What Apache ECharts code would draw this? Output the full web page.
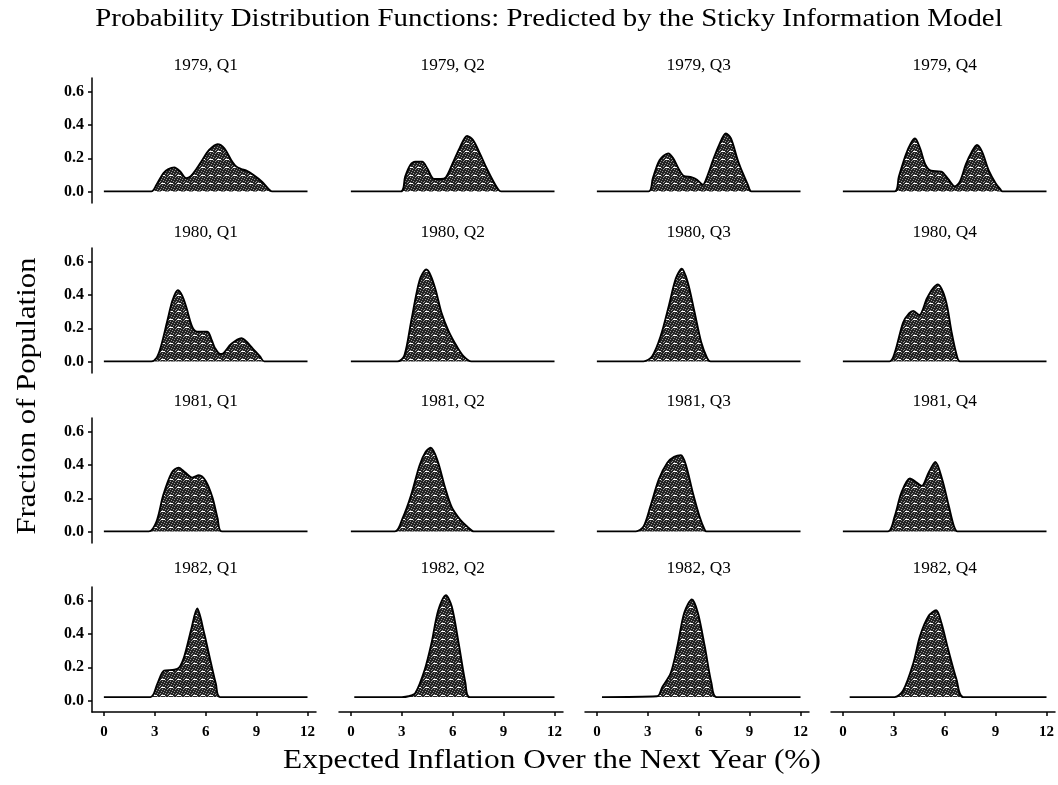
<!DOCTYPE html>
<html>
<head>
<meta charset="utf-8">
<script src="https://cdn.jsdelivr.net/npm/echarts@6/dist/echarts.min.js"></script>
<style>
html,body{margin:0;padding:0;background:#fff;}
#chart{width:1058px;height:785px;}
</style>
</head>
<body>
<div id="chart"></div>
<script>
// ---- data ----
const years = ['1979', '1980', '1981', '1982'];
const quarters = ['Q1', 'Q2', 'Q3', 'Q4'];
const xTicks = [0, 3, 6, 9, 12];
const yTicks = [0, 0.2, 0.4, 0.6];

const d1979Q1 = [[0,0],[2.8,0],[3.1,0.04],[3.5,0.11],[3.8,0.135],[4.15,0.145],[4.5,0.12],[4.85,0.08],[5.1,0.09],[5.45,0.135],[5.8,0.19],[6.2,0.25],[6.7,0.285],[7.1,0.26],[7.5,0.19],[7.8,0.15],[8.1,0.135],[8.4,0.125],[8.8,0.1],[9.3,0.06],[9.7,0.015],[9.9,0],[12,0]];
const d1979Q2 = [[0,0],[2.95,0],[3.2,0.09],[3.5,0.16],[3.8,0.18],[4.2,0.18],[4.5,0.14],[4.9,0.075],[5.3,0.075],[5.6,0.085],[6.0,0.17],[6.4,0.26],[6.85,0.335],[7.2,0.31],[7.6,0.23],[8.0,0.14],[8.4,0.06],[8.7,0.01],[8.85,0],[12,0]];
const d1979Q3 = [[0,0],[3.05,0],[3.3,0.08],[3.7,0.19],[4.2,0.23],[4.5,0.2],[4.8,0.14],[5.1,0.095],[5.6,0.085],[5.9,0.07],[6.25,0.04],[6.5,0.09],[6.85,0.19],[7.2,0.28],[7.6,0.35],[7.9,0.32],[8.3,0.19],[8.6,0.11],[8.9,0.04],[9.1,0],[12,0]];
const d1979Q4 = [[0,0],[3.05,0],[3.3,0.09],[3.7,0.22],[4.0,0.29],[4.25,0.32],[4.55,0.26],[4.85,0.165],[5.2,0.125],[5.8,0.12],[6.2,0.075],[6.6,0.03],[6.9,0.06],[7.25,0.165],[7.6,0.24],[7.9,0.28],[8.2,0.24],[8.6,0.125],[9.0,0.05],[9.3,0.01],[9.4,0],[12,0]];

const d1980Q1 = [[0,0],[2.8,0],[3.1,0.02],[3.35,0.085],[3.75,0.25],[4.05,0.37],[4.35,0.43],[4.6,0.4],[4.85,0.33],[5.2,0.21],[5.5,0.18],[6.1,0.18],[6.35,0.13],[6.55,0.08],[6.85,0.045],[7.05,0.05],[7.5,0.105],[8.1,0.14],[8.4,0.12],[8.75,0.08],[9.2,0.03],[9.45,0],[12,0]];
const d1980Q2 = [[0,0],[2.75,0],[3.15,0.035],[3.55,0.24],[4.05,0.49],[4.45,0.555],[4.7,0.52],[5.0,0.43],[5.35,0.29],[5.75,0.185],[6.25,0.09],[6.65,0.03],[7.1,0],[12,0]];
const d1980Q3 = [[0,0],[2.75,0],[3.25,0.03],[3.75,0.15],[4.25,0.34],[4.65,0.5],[5.0,0.56],[5.35,0.48],[5.75,0.3],[6.15,0.115],[6.5,0.02],[6.7,0],[12,0]];
const d1980Q4 = [[0,0],[2.75,0],[3.05,0.05],[3.55,0.235],[3.9,0.29],[4.15,0.305],[4.5,0.28],[4.95,0.38],[5.3,0.44],[5.6,0.465],[5.9,0.42],[6.15,0.33],[6.4,0.18],[6.7,0.04],[6.9,0],[12,0]];

const d1981Q1 = [[0,0],[2.65,0],[3.1,0.06],[3.5,0.22],[4.0,0.355],[4.4,0.385],[4.8,0.355],[5.2,0.325],[5.6,0.34],[6.0,0.305],[6.4,0.205],[6.7,0.08],[6.95,0],[12,0]];
const d1981Q2 = [[0,0],[2.6,0],[3.05,0.08],[3.55,0.22],[4.05,0.4],[4.4,0.48],[4.7,0.505],[5.1,0.43],[5.55,0.265],[5.95,0.145],[6.45,0.07],[6.85,0.03],[7.25,0],[12,0]];
const d1981Q3 = [[0,0],[2.3,0],[2.75,0.03],[3.15,0.15],[3.65,0.315],[4.15,0.415],[4.55,0.45],[4.95,0.46],[5.25,0.4],[5.65,0.235],[6.05,0.09],[6.35,0.01],[6.45,0],[12,0]];
const d1981Q4 = [[0,0],[2.65,0],[3.05,0.09],[3.45,0.235],[3.95,0.32],[4.35,0.295],[4.65,0.275],[5.05,0.355],[5.45,0.42],[5.85,0.315],[6.25,0.15],[6.55,0.03],[6.75,0],[12,0]];

const d1982Q1 = [[0,0.02],[2.75,0.02],[3.15,0.1],[3.55,0.18],[4.15,0.185],[4.45,0.2],[4.75,0.27],[5.15,0.43],[5.5,0.555],[5.9,0.41],[6.3,0.23],[6.6,0.1],[6.85,0.02],[12,0.02]];
const d1982Q2 = [[0.2,0.02],[3.0,0.02],[3.4,0.025],[3.8,0.045],[4.35,0.185],[4.75,0.345],[5.15,0.545],[5.6,0.635],[5.95,0.565],[6.35,0.345],[6.75,0.105],[7.0,0.02],[12,0.02]];
const d1982Q3 = [[0.3,0.02],[3.55,0.025],[3.85,0.08],[4.35,0.165],[4.75,0.33],[5.15,0.53],[5.6,0.61],[5.95,0.53],[6.35,0.33],[6.75,0.105],[7.05,0.02],[12,0.02]];
const d1982Q4 = [[0.4,0.02],[3.05,0.02],[3.55,0.06],[4.15,0.225],[4.55,0.39],[5.05,0.51],[5.5,0.545],[5.8,0.47],[6.2,0.31],[6.7,0.125],[7.1,0.02],[12,0.02]];

const panels = [
  [d1979Q1, d1979Q2, d1979Q3, d1979Q4],
  [d1980Q1, d1980Q2, d1980Q3, d1980Q4],
  [d1981Q1, d1981Q2, d1981Q3, d1981Q4],
  [d1982Q1, d1982Q2, d1982Q3, d1982Q4]
];
const rowBase = [0, 0, 0, 0.02];

// ---- layout / style ----
const colLeft = [92, 339, 585, 831];
const gridW = 224;
const rowTop = [78, 248, 418, 587];
const gridH = 125;
const xMin = -0.7, xMax = 12.5;
const titleCY = [66, 233, 402, 569];
const SERIF = '"Liberation Serif", "DejaVu Serif", serif';

function makePattern() {
  const c = document.createElement('canvas');
  c.width = 8; c.height = 8;
  const g = c.getContext('2d');
  g.fillStyle = '#232323'; g.fillRect(0, 0, 8, 8);
  g.fillStyle = '#959595';
  for (let y = 0; y < 7; y++) for (let x = 0; x < 8; x++) if ((x + 3 * y) % 5 === 0) g.fillRect(x, y, 1, 1);
  g.fillStyle = '#ffffff'; g.fillRect(1, 7, 4, 1);
  return c;
}
const pattern = { image: makePattern(), repeat: 'repeat' };

const grids = [], xAxes = [], yAxes = [], series = [];
const texts = [
  { type: 'text', x: 549, y: 19, scaleX: 1.11,
    style: { text: 'Probability Distribution Functions: Predicted by the Sticky Information Model', font: '26px ' + SERIF, fill: '#000', textAlign: 'center', textVerticalAlign: 'middle' } },
  { type: 'text', x: 28, y: 396, rotation: Math.PI / 2, scaleX: 1.14,
    style: { text: 'Fraction of Population', font: '27px ' + SERIF, fill: '#000', textAlign: 'center', textVerticalAlign: 'middle' } },
  { type: 'text', x: 552, y: 761, scaleX: 1.16,
    style: { text: 'Expected Inflation Over the Next Year (%)', font: '27px ' + SERIF, fill: '#000', textAlign: 'center', textVerticalAlign: 'middle' } }
];

for (let r = 0; r < 4; r++) {
  for (let c = 0; c < 4; c++) {
    const i = r * 4 + c;
    grids.push({ left: colLeft[c], top: rowTop[r], width: gridW, height: gridH, containLabel: false });
    const bottom = r === 3;
    xAxes.push({
      type: 'value', gridIndex: i, min: xMin, max: xMax,
      axisLine: { show: bottom, onZero: false, lineStyle: { color: '#000', width: 1.5 } },
      axisTick: { show: bottom, customValues: xTicks, length: 4, lineStyle: { color: '#000', width: 1.5 } },
      axisLabel: { show: bottom, customValues: xTicks, margin: 13, color: '#000', fontFamily: SERIF, fontSize: 15, fontWeight: 'bold' },
      splitLine: { show: false }
    });
    const left = c === 0;
    yAxes.push({
      type: 'value', gridIndex: i, min: -0.07, max: 0.685,
      axisLine: { show: left, onZero: false, lineStyle: { color: '#000', width: 1.5 } },
      axisTick: { show: left, customValues: yTicks, length: 4, lineStyle: { color: '#000', width: 1.5 } },
      axisLabel: { show: left, customValues: yTicks, margin: 8, color: '#000', fontFamily: SERIF, fontSize: 16, fontWeight: 'bold',
        formatter: v => v.toFixed(1) },
      splitLine: { show: false }
    });
    series.push({
      type: 'line', xAxisIndex: i, yAxisIndex: i,
      data: panels[r][c], showSymbol: false, symbol: 'none',
      smooth: 0.3,
      lineStyle: { color: '#000', width: 1.9 },
      areaStyle: { color: pattern, opacity: 1, origin: rowBase[r] },
      silent: true
    });
    // panel title centred above x = 6
    const cx = colLeft[c] + (6 - xMin) / (xMax - xMin) * gridW;
    texts.push({ type: 'text', x: cx, y: titleCY[r], scaleX: 1.08,
      style: { text: years[r] + ', ' + quarters[c], font: '16px ' + SERIF, fill: '#000', textAlign: 'center', textVerticalAlign: 'middle' } });
  }
}

const chart = echarts.init(document.getElementById('chart'), null, { renderer: 'canvas' });
chart.setOption({
  animation: false,
  backgroundColor: '#fff',
  grid: grids,
  xAxis: xAxes,
  yAxis: yAxes,
  series: series,
  graphic: texts
});
</script>
</body>
</html>
